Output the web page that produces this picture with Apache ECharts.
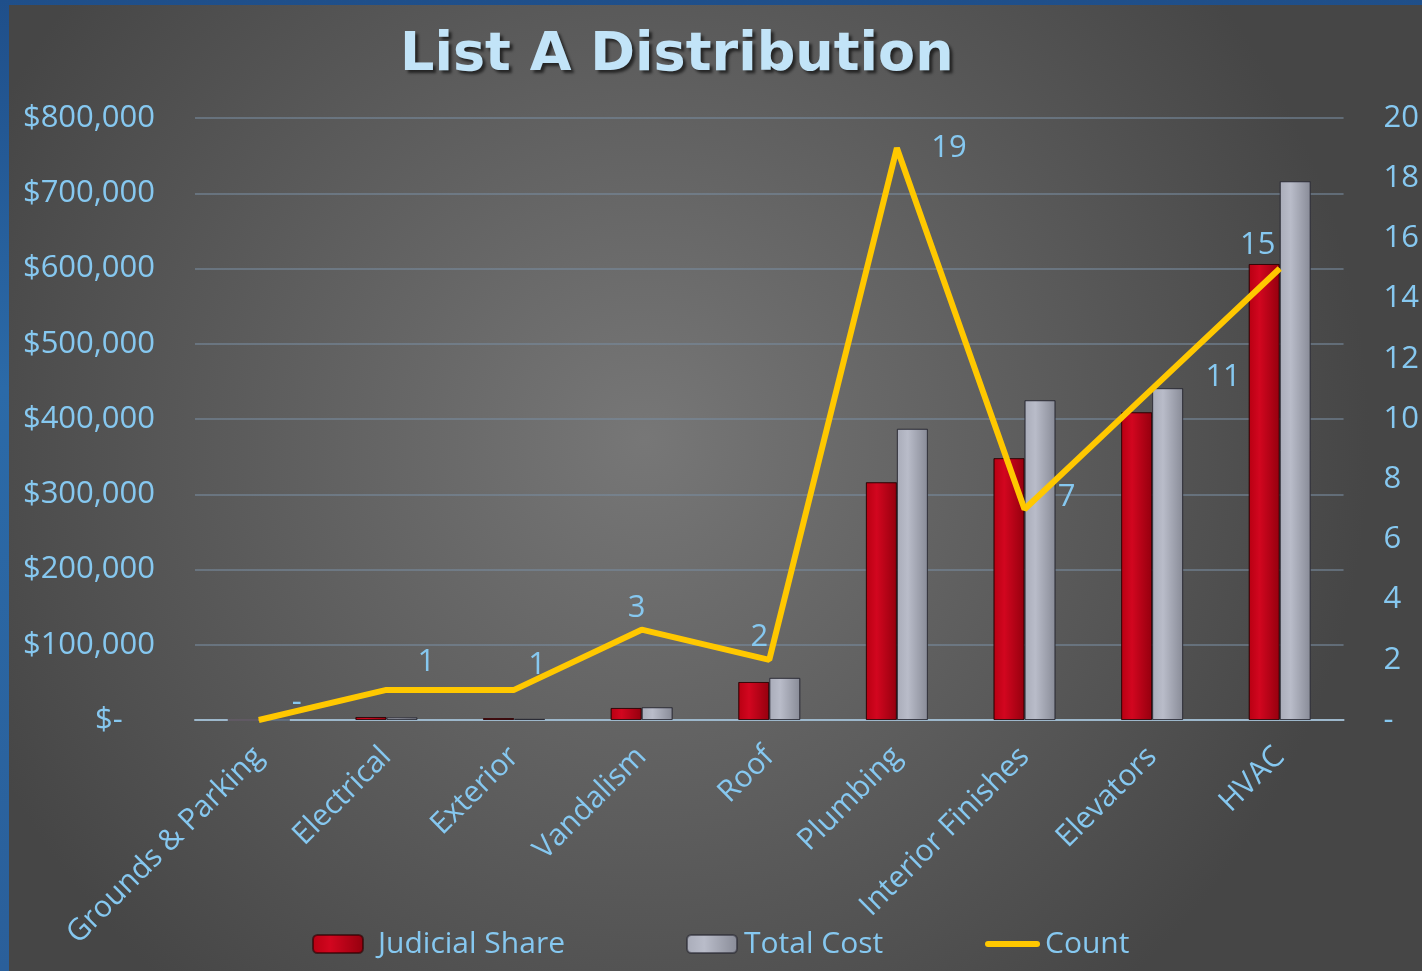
<!DOCTYPE html>
<html><head><meta charset="utf-8">
<script src="https://cdn.jsdelivr.net/npm/echarts@6/dist/echarts.min.js"></script>
<style>
html,body{margin:0;padding:0;width:1422px;height:971px;overflow:hidden;
background:linear-gradient(180deg,#1f4f8a 0%,#2b6aa8 40%,#2a5f9a 100%);}
#c{position:absolute;left:9px;top:5px;width:1413px;height:966px;}
</style></head>
<body><div id="c"></div>
<script>
const categories = ['Grounds & Parking','Electrical','Exterior','Vandalism','Roof','Plumbing','Interior Finishes','Elevators','HVAC'];
const judicialShare = [0, 4000, 2500, 16000, 50500, 316000, 348000, 409000, 606000];
const totalCost = [0, 3500, 1500, 17000, 56000, 387000, 425000, 441000, 716000];
const count = [0, 1, 1, 3, 2, 19, 7, 11, 15];
const labelOffsets = [[38,-18],[40,-28],[23,-25],[-5,-22],[-10,-23],[52,0],[42,-12],[71,-12],[-22,-23]];

const txt = '#86c8f0';
const font = 'Open Sans';
const legendText = {color:txt, fontSize:30, fontFamily:font};
const chart = echarts.init(document.getElementById('c'));
chart.setOption({
  backgroundColor: {type:'radial', x:0.45, y:0.45, r:0.75,
    colorStops:[{offset:0,color:'#777777'},{offset:1,color:'#464646'}]},
  textStyle:{fontFamily:font},
  title:{text:'List A Distribution', left:386, top:19,
    textStyle:{fontFamily:'DejaVu Sans', fontWeight:'bold', fontSize:54, color:'#c2e4f8',
      textShadowColor:'rgba(0,0,0,0.6)', textShadowOffsetX:3, textShadowOffsetY:3, textShadowBlur:3}},
  legend:[
    {bottom:7, left:298, itemWidth:50, itemHeight:18, textStyle:Object.assign({padding:[0,0,0,10]},legendText),
      data:[{name:'Judicial Share'}]},
    {bottom:7, left:672, itemWidth:50, itemHeight:18, textStyle:Object.assign({padding:[0,0,0,2]},legendText),
      data:[{name:'Total Cost'}]},
    {bottom:7, left:971, itemWidth:55, itemHeight:18, textStyle:Object.assign({padding:[0,0,0,0]},legendText),
      data:[{name:'Count', icon:'path://M3,0 L52,0 A3,3 0 0 1 52,6 L3,6 A3,3 0 0 1 3,0 Z', itemStyle:{color:'#ffc800'}}]}
  ],
  grid:{left:186, right:77, top:113, bottom:251},
  xAxis:{type:'category', data:categories,
    axisLine:{lineStyle:{color:'#9db8cc', width:2}}, axisTick:{show:false},
    axisLabel:{rotate:45, color:txt, fontSize:30, margin:32, interval:0}},
  yAxis:[
    {type:'value', min:0, max:800000, interval:100000,
      splitLine:{lineStyle:{color:'rgba(120,140,160,0.55)', width:2}},
      axisLabel:{color:txt, fontSize:31, margin:40,
        formatter:v=> v===0 ? '$-    ' : '$'+v.toLocaleString('en-US')}},
    {type:'value', min:0, max:20, interval:2, splitLine:{show:false},
      axisLabel:{color:txt, fontSize:31, margin:40, formatter:v=> v===0 ? '-' : String(v)}}
  ],
  series:[
    {name:'Judicial Share', type:'bar', data:judicialShare, barWidth:31, barGap:'0%',
      itemStyle:{borderColor:'rgba(40,0,0,0.6)', borderWidth:1,
        color:{type:'linear',x:0,y:0,x2:1,y2:0,colorStops:[
          {offset:0,color:'#b80012'},{offset:0.35,color:'#d2061f'},{offset:1,color:'#94000e'}]}}},
    {name:'Total Cost', type:'bar', data:totalCost, barWidth:31,
      itemStyle:{borderColor:'rgba(40,40,50,0.6)', borderWidth:1,
        color:{type:'linear',x:0,y:0,x2:1,y2:0,colorStops:[
          {offset:0,color:'#a9acb9'},{offset:0.35,color:'#b9bcc9'},{offset:1,color:'#888b97'}]}}},
    {name:'Count', type:'line', yAxisIndex:1, symbol:'circle', symbolSize:1,
      lineStyle:{color:'#ffc800', width:6}, itemStyle:{color:'#ffc800'},
      data:count.map((v,i)=>({value:v, label:{show:true, position:'inside', offset:labelOffsets[i],
        color:txt, fontSize:31, formatter:p=> p.value===0 ? '-' : String(p.value)}})),
      z:5}
  ]
});
</script></body></html>
